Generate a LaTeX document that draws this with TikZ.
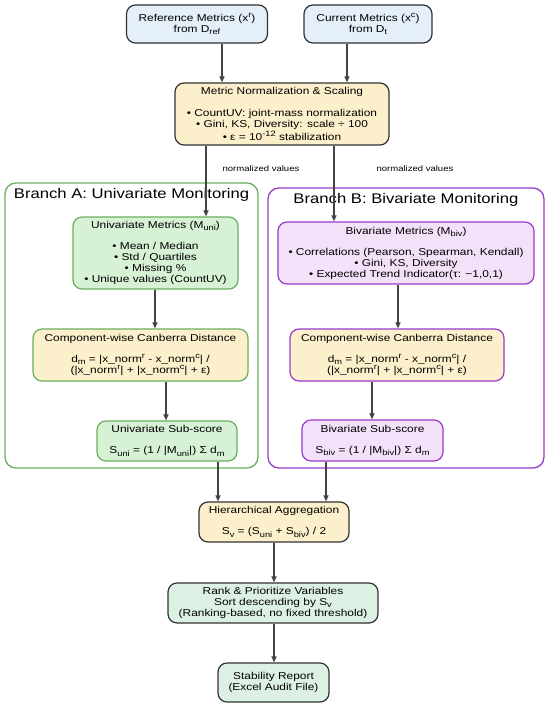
\documentclass[tikz,border=0pt]{standalone}
\usepackage{fontspec}
\setmainfont{Liberation Sans}[FakeStretch=1.19]
\usetikzlibrary{arrows.meta}
\definecolor{bluefill}{HTML}{E4EFFA}
\definecolor{yelfill}{HTML}{FCEFCB}
\definecolor{grnfill}{HTML}{D7F1D5}
\definecolor{grnline}{HTML}{6AAF5E}
\definecolor{purfill}{HTML}{F3E1FA}
\definecolor{purline}{HTML}{9A3BCB}
\definecolor{mintfill}{HTML}{DCF1E3}
\definecolor{darkline}{HTML}{333333}
\definecolor{arrline}{HTML}{444444}
\newcommand{\sbs}[1]{\raisebox{-0.45ex}{\fontsize{7.8}{8}\selectfont #1}}
\newcommand{\sps}[1]{\raisebox{0.75ex}{\fontsize{7.8}{8}\selectfont #1}}
\begin{document}
\begin{tikzpicture}[x=1pt,y=-1pt,
  box/.style={rounded corners=9pt, line width=1.2pt, align=center, inner sep=0pt,
    font=\fontsize{10}{11}\selectfont},
  greybox/.style={box, draw=darkline},
  grnbox/.style={box, draw=grnline},
  purbox/.style={box, draw=purline},
  container/.style={rounded corners=11pt, line width=1.3pt, fill=white, inner sep=0pt},
  branchtitle/.style={font=\fontsize{14}{15}\selectfont, inner sep=0pt},
  smalllabel/.style={font=\fontsize{8}{9}\selectfont, inner sep=0pt},
  arr/.style={draw=arrline, line width=1.1pt, -{Triangle[length=6pt,width=5pt]}}
]
\useasboundingbox (0,0) rectangle (550,706);
\fill[white] (0,0) rectangle (550,706);

% containers
\node[container, draw=grnline, minimum width=253pt, minimum height=285pt] (brA) at (131.5,325.5) {};
\node[container, draw=purline, minimum width=276pt, minimum height=280pt] (brB) at (406,328) {};
\node[branchtitle] (titA) at (131.5,195) {Branch A: Univariate Monitoring};
\node[branchtitle] (titB) at (406,200) {Branch B: Bivariate Monitoring};

% top
\node[greybox, fill=bluefill, minimum width=141pt, minimum height=38pt] (ref) at (197,24)
  {Reference Metrics (x\sps{r})\\from D\sbs{ref}};
\node[greybox, fill=bluefill, minimum width=128pt, minimum height=38pt] (cur) at (368,24)
  {Current Metrics (x\sps{c})\\from D\sbs{t}};
\node[greybox, fill=yelfill, minimum width=214pt, minimum height=62pt] (norm) at (282,114)
  {Metric Normalization \& Scaling\\[11pt]
   • CountUV: joint-mass normalization\\
   • Gini, KS, Diversity: scale ÷ 100\\
   • ε = 10\sps{-12} stabilization};

\node[smalllabel] (lblA) at (261,169) {normalized values};
\node[smalllabel] (lblB) at (415,169) {normalized values};

% branch A
\node[grnbox, fill=grnfill, minimum width=165pt, minimum height=72pt] (uni) at (155.5,253)
  {Univariate Metrics (M\sbs{uni})\\[10pt]
   • Mean / Median\\
   • Std / Quartiles\\
   • Missing \%\\
   • Unique values (CountUV)};
\node[grnbox, fill=yelfill, minimum width=215pt, minimum height=52pt] (compA) at (140.5,355)
  {Component-wise Canberra Distance\\[10pt]
   d\sbs{m} = |x\_norm\sps{r} - x\_norm\sps{c}| /\\
   (|x\_norm\sps{r}| + |x\_norm\sps{c}| + ε)};
\node[grnbox, fill=grnfill, minimum width=140pt, minimum height=40pt] (subA) at (167,441)
  {Univariate Sub-score\\[10pt]
   S\sbs{uni} = (1 / |M\sbs{uni}|) Σ d\sbs{m}};

% branch B
\node[purbox, fill=purfill, minimum width=256pt, minimum height=62pt] (biv) at (406,253)
  {Bivariate Metrics (M\sbs{biv})\\[10pt]
   • Correlations (Pearson, Spearman, Kendall)\\
   • Gini, KS, Diversity\\
   • Expected Trend Indicator(τ: −1,0,1)};
\node[purbox, fill=yelfill, minimum width=214pt, minimum height=52pt] (compB) at (397,355)
  {Component-wise Canberra Distance\\[10pt]
   d\sbs{m} = |x\_norm\sps{r} - x\_norm\sps{c}| /\\
   (|x\_norm\sps{r}| + |x\_norm\sps{c}| + ε)};
\node[purbox, fill=purfill, minimum width=141pt, minimum height=41pt] (subB) at (372.5,440.5)
  {Bivariate Sub-score\\[10pt]
   S\sbs{biv} = (1 / |M\sbs{biv}|) Σ d\sbs{m}};

% bottom
\node[greybox, fill=yelfill, minimum width=150pt, minimum height=40pt] (agg) at (274,522)
  {Hierarchical Aggregation\\[10pt]
   S\sbs{v} = (S\sbs{uni} + S\sbs{biv}) / 2};
\node[greybox, fill=mintfill, minimum width=210pt, minimum height=40pt] (rank) at (273,603)
  {Rank \& Prioritize Variables\\
   Sort descending by S\sbs{v}\\
   (Ranking-based, no fixed threshold)};
\node[greybox, fill=mintfill, minimum width=111pt, minimum height=39pt] (stab) at (273.5,682.5)
  {Stability Report\\(Excel Audit File)};

% x positions of connectors
\coordinate (x1) at (222,0);
\coordinate (x2) at (347,0);
\coordinate (x3) at (206,0);
\coordinate (x4) at (334,0);
\coordinate (x5) at (155,0);
\coordinate (x6) at (166,0);
\coordinate (x7) at (398,0);
\coordinate (x8) at (372,0);
\coordinate (x9) at (218,0);
\coordinate (x10) at (326,0);
\coordinate (x11) at (274,0);

\draw[arr] (ref.south -| x1) -- (norm.north -| x1);
\draw[arr] (cur.south -| x2) -- (norm.north -| x2);
\draw[arr] (norm.south -| x3) -- (uni.north -| x3);
\draw[arr] (norm.south -| x4) -- (biv.north -| x4);
\draw[arr] (uni.south -| x5) -- (compA.north -| x5);
\draw[arr] (compA.south -| x6) -- (subA.north -| x6);
\draw[arr] (biv.south -| x7) -- (compB.north -| x7);
\draw[arr] (compB.south -| x8) -- (subB.north -| x8);
\draw[arr] (subA.south -| x9) -- (agg.north -| x9);
\draw[arr] (subB.south -| x10) -- (agg.north -| x10);
\draw[arr] (agg.south -| x11) -- (rank.north -| x11);
\draw[arr] (rank.south -| x11) -- (stab.north -| x11);
\end{tikzpicture}
\end{document}
